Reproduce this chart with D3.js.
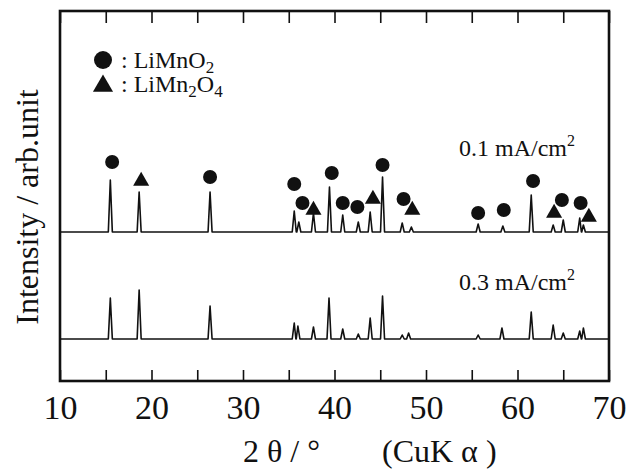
<!DOCTYPE html>
<html>
<head>
<meta charset="utf-8">
<script src="https://cdn.jsdelivr.net/npm/d3@7"></script>
<style>
  body { margin: 0; background: #fff; }
  text { font-family: "Liberation Serif", "DejaVu Serif", serif; fill: #111; }
</style>
</head>
<body>
<svg id="chart" width="637" height="469"></svg>
<script>
// peak positions (2theta) and heights (arb.)
var peaks01 = [15.5, 18.65, 26.4, 35.6, 36.1, 37.7, 39.45, 40.9, 42.6, 43.9, 45.25, 47.4, 48.4, 55.7, 58.4, 61.5, 63.9, 65.0, 66.8, 67.2]
var heights01 = [52, 40, 40, 21, 10, 19, 45, 17, 10, 20, 55, 9, 5, 8, 6, 37, 7, 12, 14, 7]

var peaks03 = [15.5, 18.65, 26.4, 35.6, 36.0, 37.7, 39.4, 40.9, 42.6, 43.9, 45.25, 47.4, 48.1, 55.7, 58.3, 61.5, 63.9, 65.0, 66.8, 67.2]
var heights03 = [41, 49, 33, 16, 13, 12, 41, 10, 5, 21, 43, 4, 6, 4, 11, 27, 14, 6, 8, 11]

// phase markers on the 0.1 mA/cm2 pattern
var markerAngles = [15.7, 18.87, 26.4, 35.6, 36.5, 37.7, 39.7, 40.9, 42.5, 44.2, 45.25, 47.55, 48.5, 55.7, 58.5, 61.7, 64.0, 64.85, 66.9, 67.8]
var markerHeights = [70, 51, 55, 48, 29, 22, 59, 29, 25, 33, 67, 33, 22, 19, 22, 51, 19, 32, 29, 15]
var markerTypes = ['c', 't', 'c', 'c', 'c', 't', 'c', 'c', 'c', 't', 'c', 'c', 't', 'c', 'c', 'c', 't', 'c', 'c', 't']

var xTicks = [10, 15, 20, 25, 30, 35, 40, 45, 50, 55, 60, 65, 70]

var svg = d3.select('#chart')

var mLeft = 60, mRight = 609, mTop = 11, mBottom = 381

var x = d3.scaleLinear().domain([10, 70]).range([mLeft, mRight])
// one unit = one pixel of intensity
var y = d3.scaleLinear().domain([0, mBottom - mTop]).range([mBottom, mTop])

var offset01 = 149
var offset03 = 42
var halfWidth = 0.22

function patternPoints (pos, hts, off) {
  var pts = [[10, off]]
  pos.forEach(function (p, i) {
    pts.push([p - halfWidth, off])
    pts.push([p, off + hts[i]])
    pts.push([p + halfWidth, off])
  })
  pts.push([70, off])
  pts.sort(function (a, b) { return a[0] - b[0] })
  return pts
}

var line = d3.line()
  .x(function (d) { return x(d[0]) })
  .y(function (d) { return y(d[1]) })

svg.append('path')
  .datum(patternPoints(peaks01, heights01, offset01))
  .attr('d', line)
  .attr('fill', 'none')
  .attr('stroke', '#111')
  .attr('stroke-width', 1.6)
  .attr('stroke-linejoin', 'round')

svg.append('path')
  .datum(patternPoints(peaks03, heights03, offset03))
  .attr('d', line)
  .attr('fill', 'none')
  .attr('stroke', '#111')
  .attr('stroke-width', 1.6)
  .attr('stroke-linejoin', 'round')

// markers
var circleSym = d3.symbol().type(d3.symbolCircle).size(154)
var triSym = d3.symbol().type(d3.symbolTriangle).size(112)

svg.selectAll('path.marker')
  .data(markerAngles)
  .enter().append('path')
  .attr('class', 'marker')
  .attr('d', function (d, i) { return markerTypes[i] === 'c' ? circleSym() : triSym() })
  .attr('transform', function (d, i) {
    return 'translate(' + x(d) + ',' + y(offset01 + markerHeights[i]) + ')'
  })
  .attr('fill', '#111')

// axes with inward ticks
var xAxis = d3.axisBottom(x)
  .tickValues(xTicks)
  .tickSize(-11)
  .tickPadding(14)
  .tickFormat(function (d) { return d % 10 === 0 ? d : '' })

var gx = svg.append('g')
  .attr('transform', 'translate(0,' + mBottom + ')')
  .call(xAxis)
gx.select('.domain').remove()
gx.selectAll('line').attr('stroke', '#111').attr('stroke-width', 1.6)
gx.selectAll('text')
  .style('font-family', '"Liberation Serif", serif')
  .style('font-size', '34px')
  .attr('fill', '#111')

var gt = svg.append('g')
  .attr('transform', 'translate(0,' + mTop + ')')
  .call(d3.axisTop(x).tickValues(xTicks).tickSize(-12).tickFormat(''))
gt.select('.domain').remove()
gt.selectAll('line').attr('stroke', '#111').attr('stroke-width', 1.6)

// frame
svg.append('rect')
  .attr('x', mLeft)
  .attr('y', mTop)
  .attr('width', mRight - mLeft)
  .attr('height', mBottom - mTop)
  .attr('fill', 'none')
  .attr('stroke', '#111')
  .attr('stroke-width', 2.6)

// axis titles
svg.append('text')
  .attr('transform', 'translate(38,207) rotate(-90)')
  .attr('text-anchor', 'middle')
  .style('font-size', '32px')
  .text('Intensity / arb.unit')

svg.append('text')
  .attr('x', 243)
  .attr('y', 462)
  .style('font-size', '32px')
  .attr('xml:space', 'preserve')
  .text('2 \u03b8 / \u00b0')

svg.append('text')
  .attr('x', 382)
  .attr('y', 462)
  .style('font-size', '32px')
  .attr('xml:space', 'preserve')
  .text('(CuK \u03b1 )')

// legend
svg.append('path')
  .attr('d', d3.symbol().type(d3.symbolCircle).size(254)())
  .attr('transform', 'translate(103,60)')
  .attr('fill', '#111')
svg.append('path')
  .attr('d', d3.symbol().type(d3.symbolTriangle).size(175)())
  .attr('transform', 'translate(103,86)')
  .attr('fill', '#111')

var leg1 = svg.append('text').attr('x', 121).attr('y', 68).style('font-size', '24px')
leg1.append('tspan').text(': LiMnO')
leg1.append('tspan').attr('dy', 5).style('font-size', '17px').text('2')

var leg2 = svg.append('text').attr('x', 121).attr('y', 92).style('font-size', '24px')
leg2.append('tspan').text(': LiMn')
leg2.append('tspan').attr('dy', 5).style('font-size', '17px').text('2')
leg2.append('tspan').attr('dy', -5).text('O')
leg2.append('tspan').attr('dy', 5).style('font-size', '17px').text('4')

// current density labels
function densityLabel (txt, yy) {
  var t = svg.append('text').attr('x', 459).attr('y', yy).style('font-size', '24px')
  t.append('tspan').text(txt + ' mA/cm')
  t.append('tspan').attr('dy', -10).style('font-size', '16px').text('2')
}
densityLabel('0.1', 156)
densityLabel('0.3', 290)
</script>
</body>
</html>
